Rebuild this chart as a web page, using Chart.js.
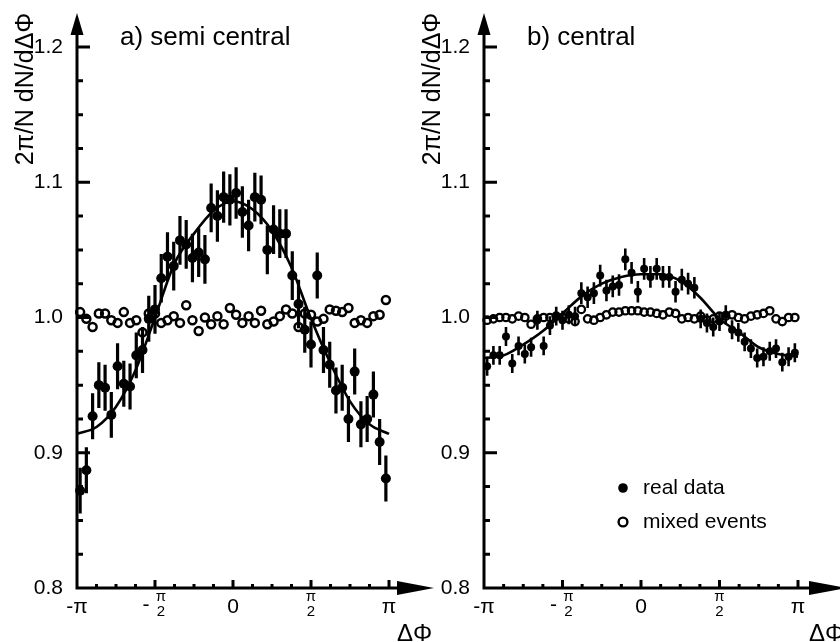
<!DOCTYPE html>
<html>
<head>
<meta charset="utf-8">
<script src="https://cdn.jsdelivr.net/npm/chart.js@4.4.0/dist/chart.umd.min.js"></script>
<style>
  body { margin: 0; background: #fff; }
  #wrap { position: relative; width: 840px; height: 642px; overflow: hidden; }
  #semi { position: absolute; left: 0; top: 0; }
  #cent { position: absolute; left: 420px; top: 0; }
</style>
</head>
<body>
<div id="wrap">
  <canvas id="semi" width="450" height="642"></canvas>
  <canvas id="cent" width="420" height="642"></canvas>
</div>
<script>
// 50 bins in delta phi, from -pi to pi
const nBins = 50;

// a) semi central
const semiReal = [0.872, 0.887, 0.927, 0.950, 0.948, 0.928, 0.964, 0.951, 0.949, 0.972,
                  0.976, 0.999, 1.006, 1.029, 1.045, 1.038, 1.057, 1.054, 1.044, 1.048,
                  1.043, 1.081, 1.075, 1.089, 1.087, 1.092, 1.078, 1.068, 1.089, 1.087,
                  1.050, 1.065, 1.062, 1.062, 1.031, 1.010, 0.991, 0.980, 1.031, 0.976,
                  0.965, 0.946, 0.948, 0.925, 0.960, 0.921, 0.925, 0.943, 0.908, 0.881];
const semiErr = [0.017, 0.017, 0.017, 0.017, 0.017, 0.017, 0.017, 0.017, 0.017, 0.017,
                 0.017, 0.017, 0.018, 0.018, 0.018, 0.018, 0.018, 0.018, 0.018, 0.018,
                 0.018, 0.018, 0.019, 0.019, 0.019, 0.019, 0.019, 0.019, 0.018, 0.018,
                 0.018, 0.018, 0.018, 0.018, 0.018, 0.018, 0.017, 0.017, 0.017, 0.017,
                 0.017, 0.017, 0.017, 0.017, 0.017, 0.017, 0.017, 0.017, 0.017, 0.017];
const semiMixed = [1.004, 0.999, 0.993, 1.003, 1.003, 0.998, 0.996, 1.004, 0.996, 0.998,
                   0.989, 1.003, 1.003, 0.996, 0.998, 1.001, 0.996, 1.009, 0.998, 0.990,
                   1.000, 0.995, 1.001, 0.995, 1.007, 1.002, 0.996, 1.001, 0.996, 1.005,
                   0.995, 0.997, 1.001, 1.006, 1.003, 0.993, 1.003, 1.002, 0.997, 0.999,
                   1.006, 1.005, 1.004, 1.007, 0.996, 0.998, 0.996, 1.001, 1.002, 1.013];

// fit curves read at steps of pi/8 (positions in units of pi)
const fitPhi = [-1, -0.875, -0.75, -0.625, -0.5, -0.375, -0.25, -0.125, 0,
                0.125, 0.25, 0.375, 0.5, 0.625, 0.75, 0.875, 1];
const semiFit = [0.914, 0.919, 0.934, 0.961, 1.000, 1.040, 1.062, 1.079, 1.086,
                 1.080, 1.064, 1.037, 0.999, 0.966, 0.938, 0.921, 0.914];

// b) central
const centReal = [0.964, 0.972, 0.972, 0.986, 0.966, 0.979, 0.973, 0.978, 0.998, 0.979,
                  0.994, 1.001, 0.998, 1.002, 1.001, 1.018, 1.015, 1.018, 1.031, 1.020,
                  1.023, 1.024, 1.043, 1.033, 1.019, 1.036, 1.030, 1.036, 1.030, 1.030,
                  1.019, 1.028, 1.025, 1.022, 0.999, 0.996, 0.993, 0.997, 1.002, 0.991,
                  0.989, 0.982, 0.977, 0.970, 0.971, 0.975, 0.977, 0.967, 0.971, 0.974];
const centErr = [0.007, 0.007, 0.007, 0.007, 0.007, 0.007, 0.007, 0.007, 0.007, 0.007,
                 0.007, 0.007, 0.007, 0.007, 0.007, 0.008, 0.008, 0.008, 0.008, 0.008,
                 0.008, 0.008, 0.008, 0.008, 0.008, 0.008, 0.008, 0.008, 0.008, 0.008,
                 0.008, 0.008, 0.008, 0.008, 0.007, 0.007, 0.007, 0.007, 0.007, 0.007,
                 0.007, 0.007, 0.007, 0.007, 0.007, 0.007, 0.007, 0.007, 0.007, 0.007];
const centMixed = [0.998, 0.999, 1.000, 1.000, 0.999, 1.001, 1.000, 0.995, 0.999, 1.000,
                   1.000, 1.001, 1.000, 0.999, 0.997, 1.006, 0.999, 0.998, 1.000, 1.002,
                   1.004, 1.004, 1.005, 1.005, 1.005, 1.004, 1.004, 1.003, 1.002, 1.004,
                   1.003, 0.999, 1.000, 0.999, 1.001, 0.998, 0.999, 1.001, 1.001, 1.002,
                   1.000, 0.999, 1.001, 1.002, 1.003, 1.005, 0.999, 0.997, 1.000, 1.000];
const centFit = [0.970, 0.972, 0.980, 0.990, 1.003, 1.016, 1.025, 1.030, 1.032,
                 1.032, 1.027, 1.015, 0.999, 0.989, 0.978, 0.973, 0.971];

// axis ticks and texts
const yTickVals = [0.8, 0.9, 1.0, 1.1, 1.2];
const yTickLabels = ['0.8', '0.9', '1.0', '1.1', '1.2'];
const xTickVals = [-1, -0.5, 0, 0.5, 1];   // units of pi
const xTickLabels = ['-π', '-π/2', '0', 'π/2', 'π'];
const legendLabels = ['real data', 'mixed events'];
const yTitle = '2π/N dN/dΔΦ';
const xTitle = 'ΔΦ';

const FONT = "'Liberation Sans', Arial, Helvetica, sans-serif";

function binPoints(vals) {
  return vals.map((v, i) => ({ x: -Math.PI + (i + 0.5) * 2 * Math.PI / nBins, y: v }));
}

// vertical error bars, drawn under the markers
const errorBars = {
  id: 'errorBars',
  beforeDatasetsDraw(chart) {
    const { ctx, scales: { x, y } } = chart;
    ctx.save();
    ctx.strokeStyle = '#000';
    chart.data.datasets.forEach(ds => {
      if (!ds.errors) return;
      ctx.lineWidth = ds.errWidth;
      ctx.beginPath();
      ds.data.forEach((p, i) => {
        const px = x.getPixelForValue(p.x);
        ctx.moveTo(px, y.getPixelForValue(p.y + ds.errors[i]));
        ctx.lineTo(px, y.getPixelForValue(p.y - ds.errors[i]));
      });
      ctx.stroke();
    });
    ctx.restore();
  }
};

// axes with arrows, inward ticks, labels, titles, legend
const frame = {
  id: 'frame',
  afterDraw(chart, args, o) {
    const { ctx, scales: { x, y } } = chart;
    const x0 = x.getPixelForValue(-Math.PI);
    const y0 = y.getPixelForValue(0.8);
    ctx.save();
    ctx.strokeStyle = '#000';
    ctx.fillStyle = '#000';
    ctx.lineWidth = 3;

    ctx.beginPath();
    ctx.moveTo(x0, y0 + 1.5);
    ctx.lineTo(x0, 32);
    ctx.moveTo(x0 - 1.5, y0);
    ctx.lineTo(o.arrowX - 35, y0);
    ctx.stroke();

    // arrow heads
    ctx.beginPath();
    ctx.moveTo(x0, 13);
    ctx.lineTo(x0 - 6.5, 35);
    ctx.lineTo(x0 + 6.5, 35);
    ctx.closePath();
    ctx.fill();
    ctx.beginPath();
    ctx.moveTo(o.arrowX, y0);
    ctx.lineTo(o.arrowX - 37, y0 - 7);
    ctx.lineTo(o.arrowX - 37, y0 + 7);
    ctx.closePath();
    ctx.fill();

    // y ticks every 0.025, major every 0.1
    ctx.lineWidth = 3;
    ctx.beginPath();
    for (let k = 1; k <= 16; k++) {
      const py = y.getPixelForValue(0.8 + k * 0.025);
      ctx.moveTo(x0, py);
      ctx.lineTo(x0 + (k % 4 === 0 ? 13 : 6), py);
    }
    // x ticks every pi/8, major every pi/2
    for (let k = -7; k <= 8; k++) {
      const px = x.getPixelForValue(k * Math.PI / 8);
      ctx.moveTo(px, y0);
      ctx.lineTo(px, y0 - (k % 4 === 0 ? 8 : 4));
    }
    ctx.stroke();

    // y tick labels
    ctx.font = '21px ' + FONT;
    ctx.textAlign = 'right';
    ctx.textBaseline = 'middle';
    yTickVals.forEach((v, i) => ctx.fillText(yTickLabels[i], x0 - 14, y.getPixelForValue(v)));

    // x tick labels, fractions stacked
    ctx.textAlign = 'center';
    ctx.textBaseline = 'alphabetic';
    xTickVals.forEach((v, i) => {
      const px = x.getPixelForValue(v * Math.PI);
      let lab = xTickLabels[i];
      if (lab.includes('/')) {
        let fx = px;
        if (lab.startsWith('-')) {
          ctx.font = '21px ' + FONT;
          ctx.fillText('-', px - 9, 611);
          lab = lab.slice(1);
          fx = px + 6;
        }
        const parts = lab.split('/');
        ctx.font = '15px ' + FONT;
        ctx.fillText(parts[0], fx, 601);
        ctx.fillText(parts[1], fx, 616);
      } else {
        ctx.font = '21px ' + FONT;
        ctx.fillText(lab, px, 613);
      }
    });

    // axis titles
    ctx.font = '24px ' + FONT;
    ctx.textAlign = 'left';
    ctx.fillText(xTitle, o.arrowX - 37, 641);

    ctx.save();
    ctx.translate(x0 - 44, 89);
    ctx.rotate(-Math.PI / 2);
    ctx.font = '25px ' + FONT;
    ctx.textAlign = 'center';
    ctx.fillText(yTitle, 0, 0);
    ctx.restore();

    // panel title
    ctx.font = '26px ' + FONT;
    ctx.textAlign = 'left';
    ctx.fillText(o.title, o.titleX, 45);

    // legend
    if (o.legend) {
      const lx = o.legend.x;
      ctx.beginPath();
      ctx.arc(lx, o.legend.y, 4.8, 0, 2 * Math.PI);
      ctx.fill();
      ctx.lineWidth = 2.4;
      ctx.beginPath();
      ctx.arc(lx, o.legend.y + 34, 4.4, 0, 2 * Math.PI);
      ctx.stroke();
      ctx.font = '21px ' + FONT;
      ctx.textBaseline = 'middle';
      ctx.fillText(legendLabels[0], lx + 20, o.legend.y);
      ctx.fillText(legendLabels[1], lx + 20, o.legend.y + 34);
    }
    ctx.restore();
  }
};

function makePanel(id, real, errs, mixed, fit, o) {
  return new Chart(document.getElementById(id), {
    type: 'scatter',
    data: {
      datasets: [
        {
          data: binPoints(real),
          errors: errs,
          errWidth: o.errWidth,
          pointRadius: o.dotR,
          pointBorderWidth: 0,
          pointBackgroundColor: '#000',
          clip: false
        },
        {
          data: fitPhi.map((p, i) => ({ x: p * Math.PI, y: fit[i] })),
          showLine: true,
          cubicInterpolationMode: 'monotone',
          borderColor: '#000',
          borderWidth: 2.6,
          pointRadius: 0,
          clip: false
        },
        {
          data: binPoints(mixed),
          pointRadius: o.ringR,
          pointBorderWidth: o.ringW,
          pointBorderColor: '#000',
          pointBackgroundColor: 'rgba(0,0,0,0)',
          clip: false
        }
      ]
    },
    options: {
      responsive: false,
      animation: false,
      devicePixelRatio: 1,
      layout: { padding: o.padding },
      scales: {
        x: { type: 'linear', min: -Math.PI, max: Math.PI, display: false },
        y: { min: 0.8, max: 1.2, display: false }
      },
      plugins: {
        legend: { display: false },
        tooltip: { enabled: false },
        frame: o
      }
    },
    plugins: [errorBars, frame]
  });
}

makePanel('semi', semiReal, semiErr, semiMixed, semiFit, {
  padding: { left: 77, right: 61, top: 47, bottom: 54 },
  arrowX: 434, title: 'a) semi central', titleX: 120,
  dotR: 5, ringR: 4, ringW: 2.5, errWidth: 3.2
});

makePanel('cent', centReal, centErr, centMixed, centFit, {
  padding: { left: 64, right: 42, top: 47, bottom: 54 },
  arrowX: 426, title: 'b) central', titleX: 107,
  dotR: 4, ringR: 3.7, ringW: 2.3, errWidth: 2.6,
  legend: { x: 203, y: 488 }
});
</script>
</body>
</html>
